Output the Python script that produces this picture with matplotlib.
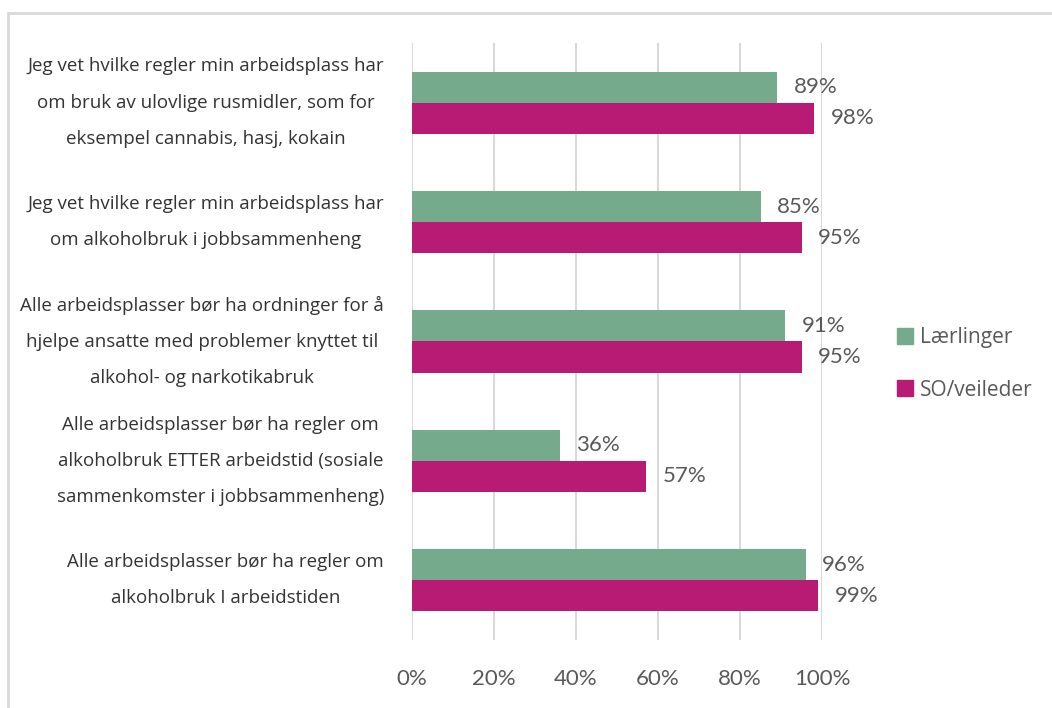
import numpy as np
import matplotlib.pyplot as plt
from matplotlib.patches import Rectangle, Patch

# Data
categories = [
    'Jeg vet hvilke regler min arbeidsplass har\nom bruk av ulovlige rusmidler, som for\neksempel cannabis, hasj, kokain',
    'Jeg vet hvilke regler min arbeidsplass har\nom alkoholbruk i jobbsammenheng',
    'Alle arbeidsplasser bør ha ordninger for å\nhjelpe ansatte med problemer knyttet til\nalkohol- og narkotikabruk',
    'Alle arbeidsplasser bør ha regler om\nalkoholbruk ETTER arbeidstid (sosiale\nsammenkomster i jobbsammenheng)',
    'Alle arbeidsplasser bør ha regler om\nalkoholbruk I arbeidstiden',
]
laerlinger = [89, 85, 91, 36, 96]
veileder = [98, 95, 95, 57, 99]
series_names = ['Lærlinger', 'SO/veileder']
xticks = [0, 20, 40, 60, 80, 100]

green = '#75AA8C'
magenta = '#B81B74'
grey_text = '#595959'
grid_col = '#D9D9D9'

fig = plt.figure(figsize=(10.52, 7.08), dpi=100)
ax = fig.add_axes([412 / 1052, 1 - 640 / 708, 410 / 1052, 597 / 708])

y = np.arange(len(categories))
h = 0.26
ax.barh(y - h / 2, laerlinger, height=h, color=green, zorder=3)
ax.barh(y + h / 2, veileder, height=h, color=magenta, zorder=3)

for yi, v in zip(y - h / 2, laerlinger):
    ax.annotate(f'{v}%', (v, yi), xytext=(12, 0), textcoords='offset points',
                va='center', ha='left', fontsize=16, color=grey_text,
                family='Lato')
for yi, v in zip(y + h / 2, veileder):
    ax.annotate(f'{v}%', (v, yi), xytext=(12, 0), textcoords='offset points',
                va='center', ha='left', fontsize=16, color=grey_text,
                family='Lato')

ax.set_xlim(0, 100)
ax.set_ylim(len(categories) - 0.5, -0.5)
ax.set_xticks(xticks)
ax.set_xticklabels([f'{t}%' for t in xticks], fontsize=16, color=grey_text,
                   family='Lato')
ax.tick_params(axis='x', length=0, pad=21)
ax.set_yticks([])
ax.xaxis.grid(True, color=grid_col, linewidth=1.5, zorder=0)
for s in ax.spines.values():
    s.set_visible(False)

# category labels: right edge left of the axis, lines centered
for yi, lab in zip(y, categories):
    ax.annotate(lab, (0, yi), xytext=(-20, 0), textcoords='offset points',
                ha='right', va='center', multialignment='center',
                fontsize=13.5, color='#333333', family='Open Sans',
                linespacing=2.3)

handles = [Patch(color=green), Patch(color=magenta)]
leg = fig.legend(handles, series_names, loc='center left',
                 bbox_to_anchor=(878 / 1052, 1 - 364 / 708), frameon=False,
                 labelcolor=grey_text, handlelength=0.8,
                 handleheight=0.8, handletextpad=0.3, labelspacing=1.5,
                 prop={'family': 'Open Sans', 'size': 15})

# light border around the chart area
fig.patches.append(Rectangle((8 / 1052, -0.05), 1.1, 1 - 13 / 708 + 0.05,
                             transform=fig.transFigure, fill=False,
                             edgecolor=grid_col, linewidth=2))

fig.savefig('out.png', dpi=100)
